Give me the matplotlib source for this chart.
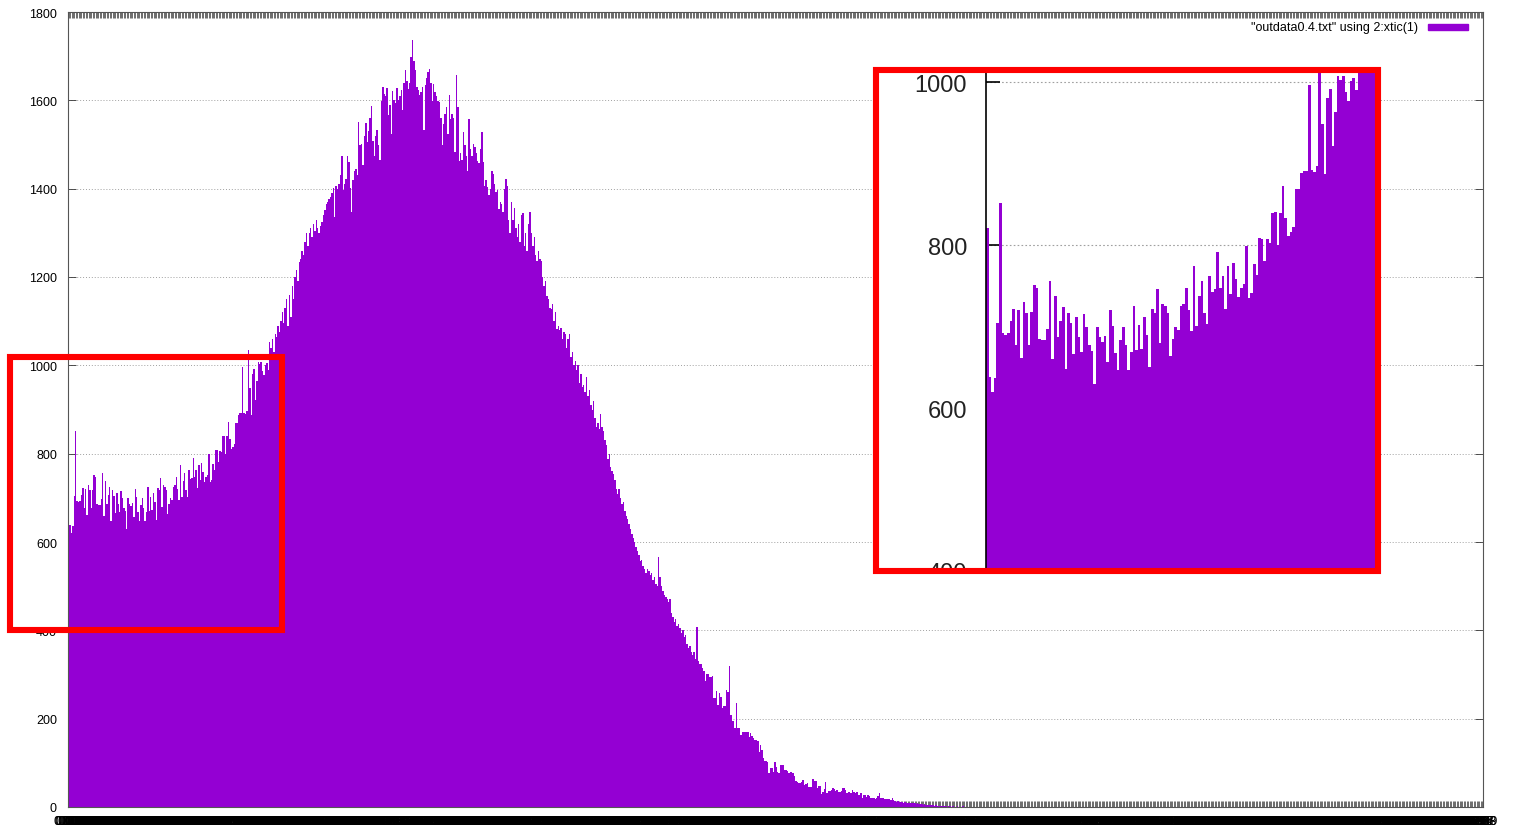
import numpy as np
import matplotlib.pyplot as plt
from matplotlib.patches import Rectangle
from matplotlib.transforms import Bbox, TransformedBbox

W, H = 1517, 828
plt.rcParams['font.family'] = ['Liberation Sans', 'DejaVu Sans']

# counts per bin (bins 0 .. 999)
counts_low = [
    821, 638, 620, 637, 704, 852, 692, 690, 692, 707,
    722, 677, 720, 662, 730, 717, 677, 718, 751, 748,
    685, 683, 683, 697, 756, 660, 737, 687, 707, 724,
    648, 717, 705, 666, 712, 687, 669, 715, 699, 678,
    670, 630, 700, 687, 681, 689, 657, 720, 701, 668,
    647, 683, 699, 677, 647, 669, 725, 671, 702, 672,
    712, 690, 650, 722, 717, 746, 680, 728, 725, 717,
    664, 685, 700, 696, 725, 728, 748, 721, 694, 774,
    701, 737, 756, 717, 703, 762, 742, 746, 791, 748,
    762, 722, 774, 740, 778, 759, 736, 747, 752, 799,
    735, 741, 777, 763, 809, 808, 781, 807, 803, 839,
    841, 800, 839, 872, 833, 811, 816, 822, 869, 869,
    888, 891, 891, 996, 892, 890, 897, 1035, 949, 887,
    981, 992, 922, 964, 1008, 1003, 1008, 988, 977, 1001,
]
counts_rise = [
    1005, 990, 1052, 1040, 1059, 1030, 1070, 1065, 1090, 1075,
    1100, 1120, 1095, 1130, 1150, 1090, 1160, 1110, 1180, 1150,
    1200, 1215, 1190, 1235, 1240, 1260, 1250, 1280, 1300, 1270,
    1300, 1310, 1290, 1320, 1305, 1330, 1310, 1300, 1315,
]
counts_peak = [
    1324, 1340, 1352, 1366, 1370, 1376, 1381, 1390, 1401, 1336,
    1406, 1400, 1411, 1430, 1474, 1396, 1410, 1423, 1474, 1460,
    1401, 1347, 1420, 1439, 1445, 1430, 1551, 1498, 1502, 1453,
    1520, 1549, 1506, 1530, 1561, 1587, 1509, 1475, 1520, 1532,
    1500, 1466, 1598, 1630, 1614, 1610, 1628, 1566, 1590, 1523,
    1621, 1600, 1595, 1629, 1600, 1610, 1624, 1577, 1640, 1668,
    1644, 1625, 1640, 1698, 1736, 1690, 1669, 1630, 1623, 1611,
    1620, 1630, 1532, 1634, 1650, 1664, 1672, 1640, 1598, 1638,
    1620, 1610, 1598, 1596, 1560, 1498, 1547, 1570, 1586, 1524,
    1613, 1558, 1570, 1560, 1483, 1657, 1585, 1462, 1480, 1464,
    1528, 1500, 1475, 1441, 1558, 1490, 1475, 1502, 1494, 1480,
    1462, 1457, 1490, 1528, 1460, 1407, 1420, 1404, 1385, 1400,
    1441, 1434, 1410, 1392, 1396, 1355, 1370, 1366, 1347, 1400,
    1421, 1407,
]
counts_fall = [
    1330, 1300, 1370, 1330, 1356, 1310, 1290, 1321, 1280, 1341,
    1346, 1270, 1300, 1260, 1320, 1347, 1300, 1270, 1290, 1250,
    1236, 1260, 1240, 1236, 1200, 1180, 1190, 1157, 1150, 1130,
    1127, 1140, 1100, 1120, 1082, 1090, 1080, 1085, 1060, 1075,
    1070, 1040, 1060, 1071, 1020, 1030, 1000, 1010, 990, 1000,
    960, 980, 950, 955, 940, 973, 930, 945, 910, 900,
    920, 880, 860, 870, 855, 890, 860, 851, 830, 820,
    788, 800, 770, 760, 754, 740, 720, 709, 720, 700,
    686, 690, 670, 660, 652, 640, 630, 618, 610, 600,
    589, 580, 570, 557, 560, 545, 539, 530, 540, 535,
    525, 530, 515, 520, 505, 500, 566, 520, 500, 490,
    480, 475, 470, 465, 470, 440, 430, 420, 425, 410,
    415, 405, 395, 400, 385, 390, 370, 360, 365, 350,
    345, 350, 335, 408, 330,
]
counts_tail = [
    323, 323, 314, 309, 285, 302, 302, 294, 294, 296,
    247, 247, 262, 232, 258, 250, 224, 228, 228, 264,
    260, 319, 209, 194, 194, 180, 236, 180, 180, 164,
    170, 170, 170, 170, 170, 158, 167, 160, 156, 152,
    152, 150, 124, 141, 130, 112, 105, 105, 103, 77,
    88, 88, 80, 101, 90, 80, 77, 95, 95, 95,
    84, 84, 82, 77, 79, 79, 77, 70, 58, 56,
    54, 54, 56, 61, 50, 52, 54, 46, 46, 46,
    64, 58, 58, 42, 48, 48, 29, 35, 40, 56,
    31, 36, 36, 39, 42, 40, 36, 39, 35, 35,
    36, 44, 44, 39, 31, 33, 33, 31, 39, 35,
    31, 35, 27, 27, 31, 20, 27, 27, 23, 27,
    25, 20, 20, 20, 18, 21, 25, 31, 20, 20,
    20, 19, 18, 18, 18, 16, 21, 16, 14, 12,
    13, 12, 11, 12, 10, 11, 10, 9, 10, 9,
    8, 9, 8, 7, 8, 7, 6, 7, 5, 6,
    5, 5, 4, 5, 4, 4, 3, 4, 3, 3,
    3, 2, 3, 2, 2, 1, 2, 2, 1, 2,
    1, 1, 2, 1, 1, 1, 2, 1, 1, 0,
    1, 1, 1, 0, 1, 0, 1, 0, 0, 1,
    0, 0, 0, 1, 0, 0, 0, 0, 1, 0,
    0, 0, 0, 0, 1, 0, 0, 0, 0, 0,
    0, 1, 0, 0, 0,
]
n_bins = 1000
counts = counts_low + counts_rise + counts_peak + counts_fall + counts_tail
counts = counts + [0] * (n_bins - len(counts))
bin_labels = [f"{k / 1000:.3f}" for k in range(n_bins)]
legend_label = '"outdata0.4.txt" using 2:xtic(1)'
yticks_main = [0, 200, 400, 600, 800, 1000, 1200, 1400, 1600, 1800]
yticks_zoom = [400, 600, 800, 1000]
zoom_bins = 149
bar_color = '#9400d3'


def fig_rect(x0, y0, x1, y1):
    # pixel box (top-left origin) -> figure fraction [left, bottom, width, height]
    return [x0 / W, 1 - y1 / H, (x1 - x0) / W, (y1 - y0) / H]


fig = plt.figure(figsize=(W / 100, H / 100), dpi=100)

# main histogram
ax = fig.add_axes(fig_rect(68, 13, 1483, 808))
xs = np.arange(n_bins)
ax.bar(xs, counts, width=1.0, color=bar_color, linewidth=0)
ax.set_xlim(-0.5, n_bins - 0.5)
ax.set_ylim(0, 1800)
ax.set_yticks(yticks_main)
ax.set_xticks(xs)
ax.set_xticklabels(bin_labels, fontsize=9)
ax.tick_params(axis='x', direction='in', length=4.3, width=0.5, top=True,
               bottom=True, pad=6, color='#333333')
ax.tick_params(axis='y', direction='in', length=5.5, width=0.6, left=True,
               right=True, labelsize=9, pad=8, color='#333333')
ax.grid(axis='y', color='#a0a0a0', linestyle=(0, (1, 2)), linewidth=0.7)
ax.set_axisbelow(True)
for sp in ax.spines.values():
    sp.set_color('#555555')
    sp.set_linewidth(0.8)

# key
fig.text(1418 / W, 1 - 28 / H, legend_label, ha='right', va='center', fontsize=9)
fig.add_artist(Rectangle((1428 / W, 1 - 31 / H), 40 / W, 6 / H,
                         transform=fig.transFigure, color=bar_color))

# zoomed view of the first bins
box = fig_rect(876, 71, 1378, 572)
fig.add_artist(Rectangle((box[0], box[1]), box[2], box[3], transform=fig.transFigure,
                         facecolor='white', edgecolor='none', zorder=1))
axz = fig.add_axes(fig_rect(986, 71, 1376, 572))
axz.set_zorder(2)
axz.bar(xs[:zoom_bins], counts[:zoom_bins], width=1.0, color=bar_color, linewidth=0)
axz.set_xlim(-0.5, zoom_bins - 0.5)
axz.set_ylim(400, 1015)
axz.set_xticks([])
axz.set_yticks(yticks_zoom)
axz.tick_params(axis='y', direction='in', length=10, width=1.2, labelsize=17,
                labelcolor='#222222', pad=13.5)
axz.grid(axis='y', color='#a0a0a0', linestyle=(0, (1.5, 2)), linewidth=0.8)
axz.set_axisbelow(True)
for side in ['top', 'right', 'bottom']:
    axz.spines[side].set_visible(False)
axz.spines['left'].set_linewidth(1.2)
clip = TransformedBbox(Bbox.from_bounds(*box), fig.transFigure)
for t in axz.yaxis.get_major_ticks():
    t.label1.set_clip_box(clip)
    t.label1.set_clip_on(True)

# red frames
fig.add_artist(Rectangle((box[0], box[1]), box[2], box[3], transform=fig.transFigure,
                         fill=False, edgecolor='red', linewidth=4.4, zorder=3))
src = fig_rect(10, 358, 282, 631)
fig.add_artist(Rectangle((src[0], src[1]), src[2], src[3], transform=fig.transFigure,
                         fill=False, edgecolor='red', linewidth=4.4, zorder=3))

fig.savefig('out.png', dpi=100)
